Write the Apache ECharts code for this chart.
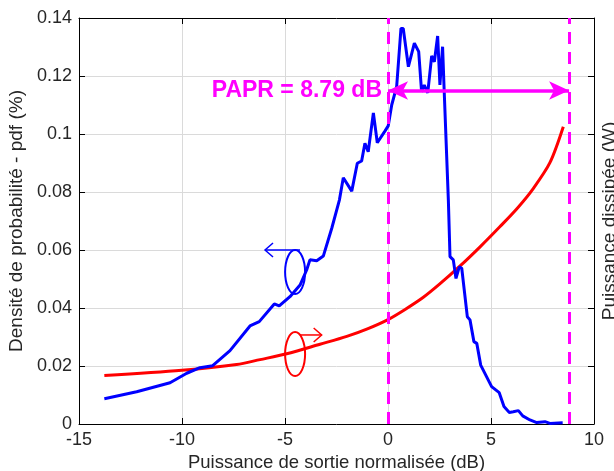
<!DOCTYPE html>
<html>
<head>
<meta charset="utf-8">
<script src="https://cdn.jsdelivr.net/npm/echarts@6/dist/echarts.min.js"></script>
<style>
  html, body { margin: 0; background: #fff; }
  #chart { width: 614px; height: 471px; }
</style>
</head>
<body>
<div id="chart"></div>
<script>
// pdf of the normalised output power (left axis)
const pdfCurve = [
  [-13.77, 0.0087], [-12.2, 0.0111], [-10.58, 0.0142], [-9.77, 0.0175], [-9.13, 0.0194],
  [-8.51, 0.0201], [-7.67, 0.0253], [-6.7, 0.0338], [-6.25, 0.0353], [-5.52, 0.0414],
  [-5.28, 0.0407], [-4.76, 0.0439], [-4.27, 0.0479], [-3.95, 0.0531], [-3.79, 0.0566],
  [-3.46, 0.0563], [-3.14, 0.0579], [-2.73, 0.0675], [-2.36, 0.0772], [-2.17, 0.0849],
  [-1.76, 0.0803], [-1.49, 0.0899], [-1.28, 0.0907], [-1.12, 0.0968], [-0.96, 0.0939],
  [-0.71, 0.1073], [-0.52, 0.097], [-0.15, 0.101], [0.01, 0.1028], [0.18, 0.11],
  [0.42, 0.1163], [0.63, 0.1364], [0.74, 0.1364], [0.99, 0.1232], [1.07, 0.1226],
  [1.28, 0.1313], [1.49, 0.1284], [1.63, 0.1146], [1.76, 0.1169], [1.93, 0.1142],
  [2.12, 0.1269], [2.25, 0.1249], [2.41, 0.1338], [2.52, 0.1169], [2.65, 0.1301],
  [2.72, 0.1163], [2.93, 0.0772], [3.01, 0.0577], [3.17, 0.0566], [3.3, 0.0502],
  [3.46, 0.0542], [3.58, 0.0537], [3.85, 0.037], [3.98, 0.0359], [4.17, 0.0284],
  [4.31, 0.0278], [4.5, 0.0203], [5.03, 0.0129], [5.4, 0.0108], [5.63, 0.006],
  [5.89, 0.004], [6.08, 0.0042], [6.33, 0.0046], [6.54, 0.0028], [6.89, 0.0014],
  [7.22, 0.0005], [7.62, 0.0008], [7.86, 0.0002], [8.48, 0.0004]
];

// dissipated power (right axis)
const powerCurve = [
  [-13.77, 0.0167], [-10, 0.0185], [-7.35, 0.0205], [-6.21, 0.0222], [-4.92, 0.0242],
  [-3.3, 0.0275], [-2, 0.0302], [-1, 0.0328], [0, 0.036], [0.83, 0.0395],
  [1.7, 0.0436], [2.5, 0.0482], [3.5, 0.0545], [4.47, 0.0611], [5.44, 0.0681],
  [6.3, 0.0746], [7.05, 0.0812], [7.86, 0.0901], [8.51, 0.1025]
];

const paprBounds = [0, 8.79];
const paprArrowY = 0.115;
const paprText = 'PAPR = 8.79 dB';

// little ellipse + arrow notes telling which axis each curve uses
const pdfNote = { center: [-4.51, 0.0524], from: [-4.27, 0.06], to: [-5.97, 0.06] };
const powerNote = { center: [-4.51, 0.0241], from: [-4.27, 0.0307], to: [-3.22, 0.0307] };

const FONT = 'Liberation Sans, Arial, sans-serif';
const MAGENTA = '#ff00ff';
const TEXT = '#262626';

const chart = echarts.init(document.getElementById('chart'));

const valueAxisBase = {
  axisLine: { show: true, onZero: false, lineStyle: { color: '#000', width: 1 } },
  axisTick: { show: true, inside: true, length: 6, lineStyle: { color: '#000' } },
  splitLine: { show: false }
};

chart.setOption({
  animation: false,
  backgroundColor: '#fff',
  textStyle: { fontFamily: FONT },
  grid: { left: 79, right: 20, top: 18, bottom: 47, outerBoundsMode: 'none' },
  xAxis: [{
    ...valueAxisBase,
    type: 'value', min: -15, max: 10, interval: 5,
    position: 'bottom',
    splitLine: { show: true, lineStyle: { color: '#dadada', width: 1 } },
    axisLabel: { color: TEXT, fontSize: 18, margin: 7, fontFamily: FONT },
    name: 'Puissance de sortie normalisée (dB)',
    nameLocation: 'middle', nameGap: 27,
    nameTextStyle: { color: TEXT, fontSize: 18.5, fontFamily: FONT }
  }, {
    ...valueAxisBase,
    type: 'value', min: -15, max: 10, interval: 5,
    position: 'top',
    axisLabel: { show: false }
  }],
  yAxis: [{
    ...valueAxisBase,
    type: 'value', min: 0, max: 0.14, interval: 0.02,
    position: 'left',
    splitLine: { show: true, lineStyle: { color: '#dadada', width: 1 } },
    axisLabel: {
      color: TEXT, fontSize: 18, margin: 7, fontFamily: FONT,
      formatter: v => String(+v.toFixed(2))
    },
    name: 'Densité de probabilité - pdf (%)',
    nameLocation: 'middle', nameGap: 52,
    nameTextStyle: { color: TEXT, fontSize: 19, fontFamily: FONT }
  }, {
    ...valueAxisBase,
    type: 'value', min: 0, max: 0.14, interval: 0.02,
    position: 'right',
    axisLabel: { show: false },
    name: 'Puissance dissipée (W)',
    nameLocation: 'middle', nameGap: 6,
    nameTextStyle: { color: TEXT, fontSize: 19, fontFamily: FONT }
  }],
  series: [{
    name: 'pdf',
    type: 'line',
    xAxisIndex: 0, yAxisIndex: 0,
    data: pdfCurve,
    showSymbol: false,
    lineStyle: { color: '#0000ff', width: 3 },
    itemStyle: { color: '#0000ff' },
    z: 3,
    markLine: {
      silent: true,
      symbol: ['none', 'none'],
      lineStyle: { color: MAGENTA, width: 3, type: [12, 8] },
      label: { show: false },
      data: paprBounds.map(x => ({ xAxis: x }))
    }
  }, {
    name: 'power',
    type: 'line',
    xAxisIndex: 0, yAxisIndex: 1,
    data: powerCurve,
    smooth: 0.3,
    showSymbol: false,
    lineStyle: { color: '#ff0000', width: 3 },
    itemStyle: { color: '#ff0000' },
    z: 2,
    markLine: {
      silent: true,
      symbol: ['arrow', 'arrow'],
      symbolSize: [14, 20],
      lineStyle: { color: MAGENTA, width: 3.5, type: 'solid' },
      label: {
        show: true, position: 'start', distance: 6,
        formatter: paprText,
        color: MAGENTA, fontSize: 23, fontWeight: 'bold', fontFamily: FONT
      },
      data: [[
        { coord: [paprBounds[0], paprArrowY] },
        { coord: [paprBounds[1], paprArrowY] }
      ]]
    }
  }]
});

function noteGraphics(note, color) {
  const px = p => chart.convertToPixel({ gridIndex: 0 }, p);
  const c = px(note.center);
  const a = px(note.from);
  const b = px(note.to);
  const dir = Math.sign(b[0] - a[0]);
  return [{
    type: 'ellipse',
    shape: { cx: c[0], cy: c[1], rx: 10, ry: 22 },
    style: { fill: null, stroke: color, lineWidth: 2 },
    z: 10
  }, {
    type: 'polyline',
    shape: { points: [a, b] },
    style: { stroke: color, lineWidth: 1.5, fill: null },
    z: 10
  }, {
    type: 'polyline',
    shape: { points: [[b[0] - dir * 8, b[1] - 7], b, [b[0] - dir * 8, b[1] + 7]] },
    style: { stroke: color, lineWidth: 1.5, fill: null },
    z: 10
  }];
}

chart.setOption({
  graphic: [...noteGraphics(pdfNote, '#0000ff'), ...noteGraphics(powerNote, '#ff0000')]
});
</script>
</body>
</html>
